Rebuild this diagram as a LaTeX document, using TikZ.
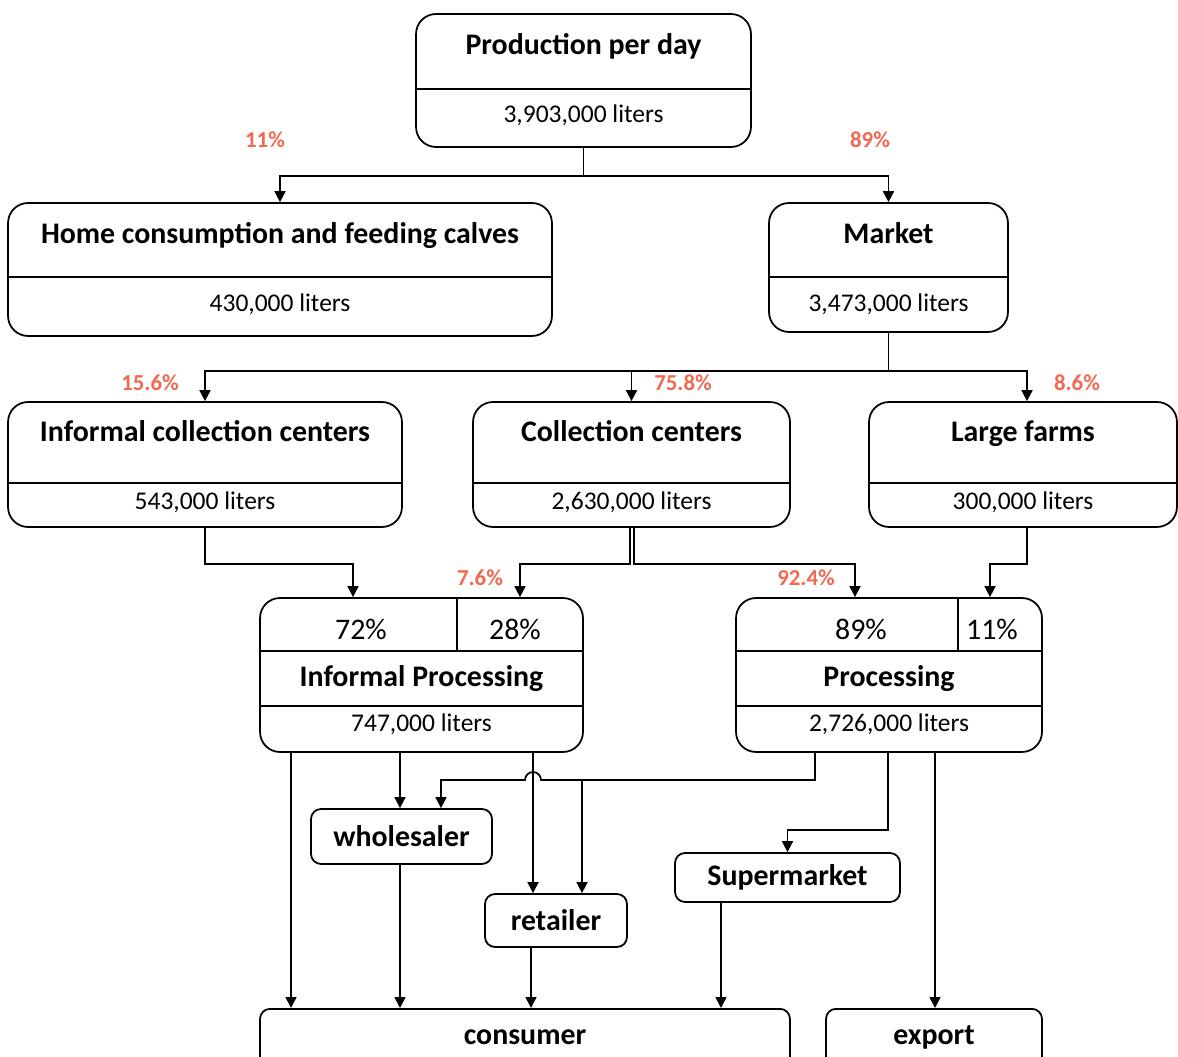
\documentclass[tikz,border=0pt]{standalone}
\usepackage{fontspec}
\setmainfont{Carlito}
\usetikzlibrary{arrows.meta,positioning,calc}
\definecolor{pctRed}{RGB}{240,105,80}

\begin{document}
\begin{tikzpicture}[
    x=0.02cm, y=-0.02cm,
    box/.style={draw, line width=1pt, rounded corners=0.4cm},
    smallbox/.style={draw, line width=1pt, rounded corners=0.2cm,
      font=\fontsize{17}{20}\selectfont\bfseries},
    title/.style={font=\fontsize{17}{20}\selectfont\bfseries, inner sep=0pt, anchor=base},
    amount/.style={font=\fontsize{14.5}{17}\selectfont, inner sep=0pt, anchor=base},
    share/.style={font=\fontsize{17}{20}\selectfont, inner sep=0pt, anchor=base},
    pct/.style={font=\fontsize{13}{15}\selectfont\bfseries, text=pctRed, inner sep=0pt},
    div/.style={line width=1pt},
    flow/.style={line width=1pt, -{Triangle[length=2.2mm,width=2.2mm]}}
  ]
    \useasboundingbox (0,0) rectangle (1178,1057);
    \clip (0,0) rectangle (1178,1057);

    % Production per day
    \node[box, minimum width=6.7cm, minimum height=2.66cm] (prod) at (583.5,80.5) {};
    \draw[div] (prod.west |- 0,89) -- (prod.east |- 0,89);
    \node[title] (prodT) at (583.5,55) {Production per day};
    \node[amount] (prodV) at (583.5,123) {3,903,000 liters};

    % Home consumption
    \node[box, minimum width=10.88cm, minimum height=2.66cm] (home) at (280,269.5) {};
    \draw[div] (home.west |- 0,277) -- (home.east |- 0,277);
    \node[title] (homeT) at (280,244) {Home consumption and feeding calves};
    \node[amount] (homeV) at (280,312) {430,000 liters};

    % Market
    \node[box, minimum width=4.78cm, minimum height=2.58cm] (market) at (888.5,267.5) {};
    \draw[div] (market.west |- 0,277) -- (market.east |- 0,277);
    \node[title] (marketT) at (888.5,244) {Market};
    \node[amount] (marketV) at (888.5,312) {3,473,000 liters};

    % Informal collection centers
    \node[box, minimum width=7.88cm, minimum height=2.5cm] (icc) at (205,464.5) {};
    \draw[div] (icc.west |- 0,483) -- (icc.east |- 0,483);
    \node[title] (iccT) at (205,442) {Informal collection centers};
    \node[amount] (iccV) at (205,510) {543,000 liters};

    % Collection centers
    \node[box, minimum width=6.34cm, minimum height=2.5cm] (cc) at (631.5,464.5) {};
    \draw[div] (cc.west |- 0,483) -- (cc.east |- 0,483);
    \node[title] (ccT) at (631.5,442) {Collection centers};
    \node[amount] (ccV) at (631.5,510) {2,630,000 liters};

    % Large farms
    \node[box, minimum width=6.16cm, minimum height=2.5cm] (farms) at (1023,464.5) {};
    \draw[div] (farms.west |- 0,483) -- (farms.east |- 0,483);
    \node[title] (farmsT) at (1023,442) {Large farms};
    \node[amount] (farmsV) at (1023,510) {300,000 liters};

    % Informal Processing
    \node[box, minimum width=6.46cm, minimum height=3.08cm] (iproc) at (421.5,675) {};
    \draw[div] (iproc.west |- 0,651) -- (iproc.east |- 0,651);
    \draw[div] (iproc.west |- 0,706) -- (iproc.east |- 0,706);
    \draw[div] (457,0 |- iproc.north) -- (457,651);
    \node[share] (iprocA) at (361,640) {72\%};
    \node[share] (iprocB) at (515,640) {28\%};
    \node[title] (iprocT) at (421.5,687) {Informal Processing};
    \node[amount] (iprocV) at (421.5,732) {747,000 liters};

    % Processing
    \node[box, minimum width=6.12cm, minimum height=3.08cm] (proc) at (889,675) {};
    \draw[div] (proc.west |- 0,651) -- (proc.east |- 0,651);
    \draw[div] (proc.west |- 0,706) -- (proc.east |- 0,706);
    \draw[div] (958,0 |- proc.north) -- (958,651);
    \node[share] (procA) at (861,640) {89\%};
    \node[share] (procB) at (992,640) {11\%};
    \node[title] (procT) at (889,687) {Processing};
    \node[amount] (procV) at (889,732) {2,726,000 liters};

    % outlets
    \node[smallbox, minimum width=3.62cm, minimum height=1.1cm] (wholesaler) at (401.5,836.5) {wholesaler};
    \node[smallbox, minimum width=2.84cm, minimum height=1.06cm] (retailer) at (556,920.5) {retailer};
    \node[smallbox, minimum width=4.5cm, minimum height=0.98cm] (supermarket) at (787.5,877.5) {Supermarket};
    \node[smallbox, minimum width=10.6cm, minimum height=1.44cm, anchor=north] (consumer) at (525,1008) {};
    \node[title] (consumerT) at (525,1044) {consumer};
    \node[smallbox, minimum width=4.32cm, minimum height=1.44cm, anchor=north] (export) at (934,1008) {};
    \node[title] (exportT) at (934,1044) {export};

    % shares on the arrows
    \node[pct] (p11) at (265,140) {11\%};
    \node[pct] (p89) at (870,140) {89\%};
    \node[pct] (p156) at (150,383) {15.6\%};
    \node[pct] (p758) at (683,383) {75.8\%};
    \node[pct] (p86) at (1077,383) {8.6\%};
    \node[pct] (p76) at (480,578) {7.6\%};
    \node[pct] (p924) at (806,578) {92.4\%};

    % production split
    \draw[flow] (prod.south) -- ++(0,28) -| (home.north);
    \draw[flow] (prod.south) -- ++(0,28) -| (market.north);

    % market split
    \draw[flow] (market.south) -- ++(0,38) -| (icc.north);
    \draw[flow] (market.south) -- ++(0,38) -| (cc.north);
    \draw[flow] (market.south) -- ++(0,38) -| (1027,0 |- farms.north);

    % into processing
    \draw[flow] (icc.south) -- ++(0,36) -| (353,0 |- iproc.north);
    \draw[flow] (630,0 |- cc.south) -- ++(0,36) -| (520,0 |- iproc.north);
    \draw[flow] (634,0 |- cc.south) -- ++(0,36) -| (855,0 |- proc.north);
    \draw[flow] (1027,0 |- farms.south) -- ++(0,36) -| (990,0 |- proc.north);

    % out of informal processing
    \draw[flow] (291,0 |- iproc.south) -- (291,0 |- consumer.north);
    \draw[flow] (400,0 |- iproc.south) -- (400,0 |- wholesaler.north);
    \draw[flow] (533,0 |- iproc.south) -- (533,0 |- retailer.north);

    % out of processing
    \coordinate (hub) at (582,780);
    \draw[flow] (815,0 |- proc.south) -- (815,780) -- (541,780)
      arc[start angle=0, end angle=180, radius=0.16cm] -- (441,780) -- (441,0 |- wholesaler.north);
    \draw[flow] (hub) -- (hub |- retailer.north);
    \draw[flow] (888,0 |- proc.south) -- (888,830) -| (supermarket.north);
    \draw[flow] (935,0 |- proc.south) -- (935,0 |- export.north);

    % to the consumer
    \draw[flow] (400,0 |- wholesaler.south) -- (400,0 |- consumer.north);
    \draw[flow] (531,0 |- retailer.south) -- (531,0 |- consumer.north);
    \draw[flow] (721,0 |- supermarket.south) -- (721,0 |- consumer.north);
  \end{tikzpicture}
\end{document}
